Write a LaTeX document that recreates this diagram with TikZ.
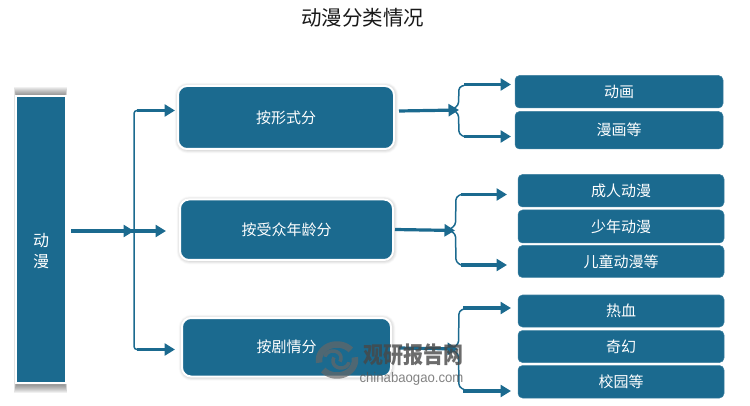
\documentclass[tikz,border=0pt]{standalone}
\usepackage{fontspec}
\setmainfont{Liberation Sans}
\newfontfamily\cjk{Noto Sans CJK SC}
\usetikzlibrary{calc,shadows.blur,arrows.meta}
\definecolor{teal}{HTML}{1B6A8F}
\tikzset{
  x=1pt,y=-1pt,
  lab/.style={text=white,font=\cjk\fontsize{15}{17}\selectfont,inner sep=0pt},
  leaf/.style={fill=teal,draw=teal!85!white,line width=.5pt,rounded corners=4.5pt,lab},
  mid/.style={fill=teal,draw=white,line width=2pt,rounded corners=9pt,lab,
     blur shadow={shadow blur steps=8,shadow xshift=0.5pt,shadow yshift=-0.5pt,shadow blur radius=4pt,shadow opacity=35}},
  feed/.style={draw=teal,line width=3.2pt,-{Triangle[length=10.5pt,width=12pt]}},
  bracket/.style={draw=teal,line width=1.5pt,rounded corners=3pt},
  logoring/.style={draw=black!60,line width=6.5pt,opacity=.7},
  logoswirl/.style={draw=black!60,line width=3.5pt,opacity=.7},
}
\newcommand{\boxat}[7]{\node[#1,minimum width=#4-#2,minimum height=#5-#3,anchor=center] (#6) at ({(#2+#4)/2},{(#3+#5)/2}) {#7};}
\begin{document}
\begin{tikzpicture}
\useasboundingbox (0,0) rectangle (750,406);
\node[font=\cjk\fontsize{20.5}{22}\selectfont,text=black!90] (title) at (362.5,18) {动漫分类情况};
% root with soft shadow
\foreach \i in {0,...,7} {
  \fill[black,opacity=.06] ({14+\i/4},{87+\i}) rectangle ({67-\i/4},{393-\i});
}
\node[fill=teal,draw=white,line width=2pt,minimum width=50pt,minimum height=286pt,inner sep=0pt] (root) at (40.5,239.5) {};
\node[text=white,font=\cjk\fontsize{16}{21}\selectfont,align=center,inner sep=0pt] (rootlabel) at (41,251) {动\\漫};
% middle
\boxat{mid}{178}{86}{394}{149}{m1}{\raisebox{-.5pt}{按形式分}}
\boxat{mid}{180}{199.5}{393}{260}{m2}{按受众年龄分}
\boxat{mid}{182}{318}{391}{376.5}{m3}{按剧情分}
% leaves
\boxat{leaf}{515}{75.5}{723}{108}{a1}{动画}
\boxat{leaf}{515}{111.5}{723}{149}{a2}{漫画等}
\boxat{leaf}{518}{174.5}{724}{207}{b1}{成人动漫}
\boxat{leaf}{518}{210}{724}{243}{b2}{少年动漫}
\boxat{leaf}{518}{245.5}{724}{277.5}{b3}{儿童动漫等}
\boxat{leaf}{518}{295}{724}{327}{c1}{热血}
\boxat{leaf}{518}{330.5}{724}{362.5}{c2}{奇幻}
\boxat{leaf}{518}{365.5}{724}{398}{c3}{校园等}
% junction coordinates
\coordinate (rs) at (71,231);
\coordinate (rj) at (134,231);
\coordinate (m1t) at (175,110.5);
\coordinate (m2t) at (166,231);
\coordinate (m3t) at (175,349.5);
\coordinate (s1) at (399,111);  \coordinate (j1) at (459,110);
\coordinate (s2) at (395,229.5);\coordinate (j2) at (455,230.5);
\coordinate (s3) at (399,348);  \coordinate (j3) at (458,349);
\coordinate (a1t) at (511,84.5);\coordinate (a2t) at (511,136.5);
\coordinate (b1t) at (507,194.5);\coordinate (b3t) at (507,265);
\coordinate (c1t) at (511,308);\coordinate (c3t) at (511,391);
% root connectors
\draw[feed] (rs) -- (rj);
\draw[feed] (131,231) -- (m2t);
\draw[bracket] (137,110.5) -| (134,231) |- (137,349.5);
\draw[feed] (137,110.5) -- (m1t);
\draw[feed] (137,349.5) -- (m3t);
% branch 1
\draw[feed] (s1) -- (j1);
\draw[bracket] (464,85.5) -- (459,87) -- (458.5,105) -- (452,110);
\draw[bracket] (452,109) -- (458.5,114) -- (459,134) -- (464,136.5);
\draw[feed] (464,84.5) -- (a1t);
\draw[feed] (464,136.5) -- (a2t);
% branch 2
\draw[feed] (s2) -- (j2);
\draw[bracket] (461,194.5) -- (456,197) -- (455.5,225) -- (449,230);
\draw[bracket] (449,230) -- (455.5,234) -- (456,262) -- (461,265);
\draw[feed] (461,194.5) -- (b1t);
\draw[feed] (461,265) -- (b3t);
% branch 3
\draw[feed] (s3) -- (j3);
\draw[bracket] (464,309) -- (459,311) -- (458.5,344) -- (451,349);
\draw[bracket] (451,349) -- (458.5,354) -- (459,387) -- (464,389.5);
\draw[feed] (463,308) -- (c1t);
\draw[feed] (463,391) -- (c3t);
% watermark logo
\draw[logoring] plot[domain=-190:-40,samples=30,smooth] ({337+18*cos(\x)},{360+15.5*sin(\x)});
\draw[logoring] plot[domain=-10:140,samples=30,smooth] ({337+18*cos(\x)},{360+15.5*sin(\x)});
\draw[logoswirl] plot[domain=-170:30,samples=30,smooth] ({333+8*cos(\x)},{358+7*sin(\x)});
\draw[logoswirl] plot[domain=10:210,samples=30,smooth] ({341+8*cos(\x)},{361+7*sin(\x)});
% watermark text
\node[text=black!72,opacity=.8,font=\cjk\bfseries\fontsize{20}{22}\selectfont,inner sep=0pt,yscale=1.15] (wm1) at (413,354.5) {观研报告网};
\node[text=black!68,opacity=.72,font=\fontsize{14}{15}\selectfont,inner sep=0pt,xscale=.94] (wm2) at (411.5,378.5) {chinabaogao.com};
\end{tikzpicture}
\end{document}
